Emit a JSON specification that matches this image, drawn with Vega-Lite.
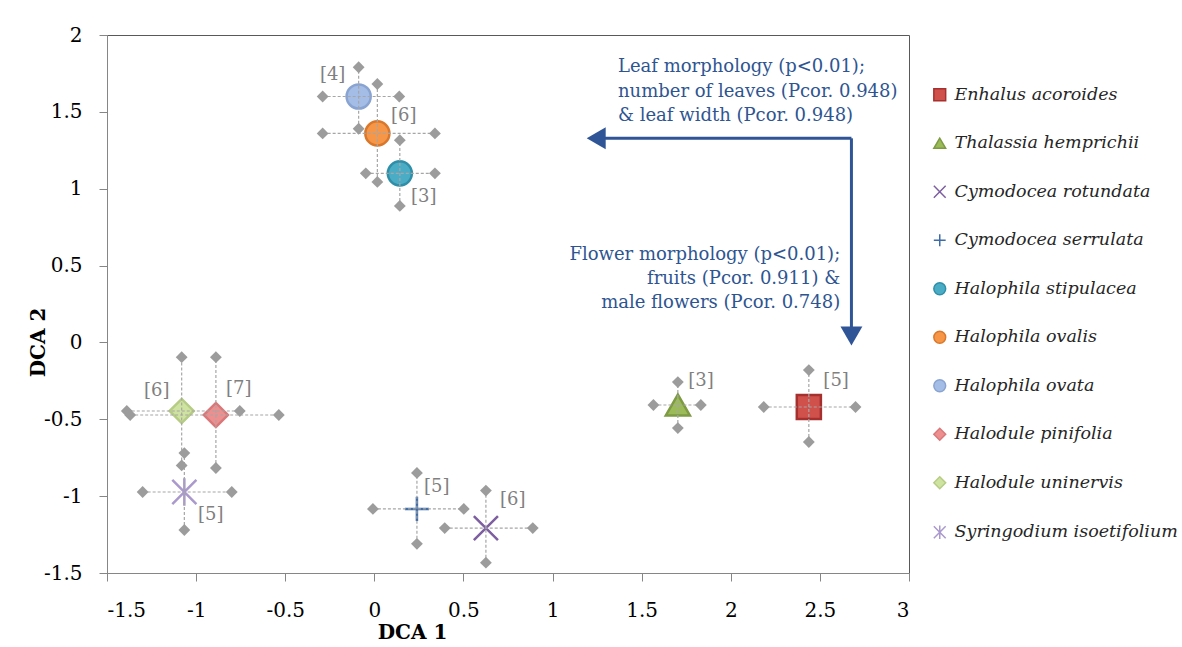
{
  "$schema": "https://vega.github.io/schema/vega-lite/v6.json",
  "autosize": {"type": "none"},
  "width": 802,
  "height": 538,
  "padding": {"left": 107, "top": 35, "right": 273, "bottom": 74},
  "background": "white",
  "datasets": {
    "species": [
      {"sp": "Enhalus acoroides", "x": 2.438, "y": -0.42, "xlo": 2.185, "xhi": 2.70, "ylo": -0.648, "yhi": -0.18, "n": "[5]", "lx": 2.591, "ly": -0.25},
      {"sp": "Thalassia hemprichii", "x": 1.703, "y": -0.407, "xlo": 1.566, "xhi": 1.832, "ylo": -0.557, "yhi": -0.258, "n": "[3]", "lx": 1.833, "ly": -0.25},
      {"sp": "Cymodocea rotundata", "x": 0.626, "y": -1.208, "xlo": 0.395, "xhi": 0.889, "ylo": -1.433, "yhi": -0.964, "n": "[6]", "lx": 0.777, "ly": -1.026},
      {"sp": "Cymodocea serrulata", "x": 0.239, "y": -1.083, "xlo": -0.008, "xhi": 0.502, "ylo": -1.31, "yhi": -0.849, "n": "[5]", "lx": 0.35, "ly": -0.94},
      {"sp": "Halophila stipulacea", "x": 0.143, "y": 1.10, "xlo": -0.048, "xhi": 0.34, "ylo": 0.888, "yhi": 1.316, "n": "[3]", "lx": 0.277, "ly": 0.946},
      {"sp": "Halophila ovalis", "x": 0.017, "y": 1.36, "xlo": -0.29, "xhi": 0.34, "ylo": 1.044, "yhi": 1.681, "n": "[6]", "lx": 0.165, "ly": 1.473},
      {"sp": "Halophila ovata", "x": -0.088, "y": 1.60, "xlo": -0.29, "xhi": 0.14, "ylo": 1.39, "yhi": 1.79, "n": "[4]", "lx": -0.234, "ly": 1.74},
      {"sp": "Halodule pinifolia", "x": -0.889, "y": -0.472, "xlo": -1.37, "xhi": -0.536, "ylo": -0.817, "yhi": -0.096, "n": "[7]", "lx": -0.761, "ly": -0.303},
      {"sp": "Halodule uninervis", "x": -1.081, "y": -0.446, "xlo": -1.389, "xhi": -0.755, "ylo": -0.80, "yhi": -0.096, "n": "[6]", "lx": -1.221, "ly": -0.316},
      {"sp": "Syringodium isoetifolium", "x": -1.066, "y": -0.973, "xlo": -1.30, "xhi": -0.80, "ylo": -1.22, "yhi": -0.72, "n": "[5]", "lx": -0.918, "ly": -1.123}
    ],
    "notes": [
      {"block": "leaf", "t": "Leaf morphology (p<0.01);", "x": 1.367, "y": 1.790},
      {"block": "leaf", "t": "number of leaves (Pcor. 0.948)", "x": 1.367, "y": 1.630},
      {"block": "leaf", "t": "&  leaf width (Pcor. 0.948)", "x": 1.367, "y": 1.475},
      {"block": "flower", "t": "Flower morphology (p<0.01);", "x": 2.614, "y": 0.570},
      {"block": "flower", "t": "fruits (Pcor. 0.911) &", "x": 2.614, "y": 0.415},
      {"block": "flower", "t": "male flowers (Pcor. 0.748)", "x": 2.614, "y": 0.258}
    ],
    "arrows": [
      {"x": 1.245, "x2": 2.677, "y": 1.328, "y2": 1.328},
      {"x": 2.677, "x2": 2.677, "y": 1.328, "y2": 0.042}
    ],
    "heads": [
      {"dir": "left", "x": 1.245, "y": 1.328},
      {"dir": "down", "x": 2.677, "y": 0.042}
    ]
  },
  "layer": [
    {
      "data": {"name": "species"},
      "mark": {"type": "point", "filled": true, "size": 580, "strokeWidth": 2.5, "opacity": 1},
      "encoding": {
        "x": {
          "field": "x", "type": "quantitative", "title": "DCA 1",
          "scale": {"domain": [-1.5, 3], "nice": false, "zero": false},
          "axis": {"title": "DCA 1", "values": [-1.5, -1, -0.5, 0, 0.5, 1, 1.5, 2, 2.5, 3], "labelExpr": "'' + datum.value", "labelPadding": 19, "titleX": 305, "titleY": 59, "titleBaseline": "middle", "titleAlign": "center"}
        },
        "y": {
          "field": "y", "type": "quantitative", "title": "DCA 2",
          "scale": {"domain": [-1.5, 2], "nice": false, "zero": false},
          "axis": {"title": "DCA 2", "values": [-1.5, -1, -0.5, 0, 0.5, 1, 1.5, 2], "labelExpr": "'' + datum.value", "labelPadding": 17, "titleX": -69, "titleY": 307, "titleBaseline": "middle", "titleAlign": "center", "titleAngle": -90}
        },
        "fill": {
          "field": "sp", "type": "nominal",
          "scale": {
            "domain": ["Enhalus acoroides", "Thalassia hemprichii", "Cymodocea rotundata", "Cymodocea serrulata", "Halophila stipulacea", "Halophila ovalis", "Halophila ovata", "Halodule pinifolia", "Halodule uninervis", "Syringodium isoetifolium"],
            "range": ["#D0504C", "#9BBB59", "#8064A2", "#4F81BD", "#4BACC6", "#F79646", "#A4BDE6", "#EE8F8F", "#CFE3A0", "#B3A2D0"]
          },
          "legend": {"title": null}
        },
        "stroke": {
          "field": "sp", "type": "nominal",
          "scale": {
            "domain": ["Enhalus acoroides", "Thalassia hemprichii", "Cymodocea rotundata", "Cymodocea serrulata", "Halophila stipulacea", "Halophila ovalis", "Halophila ovata", "Halodule pinifolia", "Halodule uninervis", "Syringodium isoetifolium"],
            "range": ["#A5302D", "#7E9A43", "#7D5FA1", "#3D6CA8", "#2F8FA8", "#D9782C", "#8AA4D2", "#D9787A", "#B6CC85", "#A999CC"]
          },
          "legend": {"title": null}
        },
        "shape": {
          "field": "sp", "type": "nominal",
          "scale": {
            "domain": ["Enhalus acoroides", "Thalassia hemprichii", "Cymodocea rotundata", "Cymodocea serrulata", "Halophila stipulacea", "Halophila ovalis", "Halophila ovata", "Halodule pinifolia", "Halodule uninervis", "Syringodium isoetifolium"],
            "range": ["square", "triangle-up", "M-1,-1L1,1M-1,1L1,-1", "M-1,0L1,0M0,-1L0,1", "circle", "circle", "circle", "diamond", "diamond", "M-1,-1L1,1M-1,1L1,-1M0,-1.15L0,1.15"]
          },
          "legend": {"title": null}
        }
      }
    },
    {
      "data": {"name": "species"},
      "mark": {"type": "rule", "color": "#A6A6A6", "strokeDash": [3, 2], "strokeWidth": 1.2},
      "encoding": {
        "x": {"field": "xlo", "type": "quantitative", "title": "DCA 1"},
        "x2": {"field": "xhi"},
        "y": {"field": "y", "type": "quantitative", "title": "DCA 2"}
      }
    },
    {
      "data": {"name": "species"},
      "mark": {"type": "rule", "color": "#A6A6A6", "strokeDash": [3, 2], "strokeWidth": 1.2},
      "encoding": {
        "x": {"field": "x", "type": "quantitative", "title": "DCA 1"},
        "y": {"field": "ylo", "type": "quantitative", "title": "DCA 2"},
        "y2": {"field": "yhi"}
      }
    },
    {
      "data": {"name": "species"},
      "mark": {"type": "point", "shape": "diamond", "filled": true, "size": 140, "color": "#9C9C9C", "opacity": 1},
      "encoding": {
        "x": {"field": "xlo", "type": "quantitative", "title": "DCA 1"},
        "y": {"field": "y", "type": "quantitative", "title": "DCA 2"}
      }
    },
    {
      "data": {"name": "species"},
      "mark": {"type": "point", "shape": "diamond", "filled": true, "size": 140, "color": "#9C9C9C", "opacity": 1},
      "encoding": {
        "x": {"field": "xhi", "type": "quantitative", "title": "DCA 1"},
        "y": {"field": "y", "type": "quantitative", "title": "DCA 2"}
      }
    },
    {
      "data": {"name": "species"},
      "mark": {"type": "point", "shape": "diamond", "filled": true, "size": 140, "color": "#9C9C9C", "opacity": 1},
      "encoding": {
        "x": {"field": "x", "type": "quantitative", "title": "DCA 1"},
        "y": {"field": "ylo", "type": "quantitative", "title": "DCA 2"}
      }
    },
    {
      "data": {"name": "species"},
      "mark": {"type": "point", "shape": "diamond", "filled": true, "size": 140, "color": "#9C9C9C", "opacity": 1},
      "encoding": {
        "x": {"field": "x", "type": "quantitative", "title": "DCA 1"},
        "y": {"field": "yhi", "type": "quantitative", "title": "DCA 2"}
      }
    },
    {
      "data": {"name": "species"},
      "mark": {"type": "text", "font": "DejaVu Serif", "fontSize": 18, "color": "#808080", "align": "center", "baseline": "middle"},
      "encoding": {
        "x": {"field": "lx", "type": "quantitative", "title": "DCA 1"},
        "y": {"field": "ly", "type": "quantitative", "title": "DCA 2"},
        "text": {"field": "n"}
      }
    },
    {
      "data": {"name": "arrows"},
      "mark": {"type": "rule", "color": "#2F5597", "strokeWidth": 3},
      "encoding": {
        "x": {"field": "x", "type": "quantitative", "title": "DCA 1"},
        "x2": {"field": "x2"},
        "y": {"field": "y", "type": "quantitative", "title": "DCA 2"},
        "y2": {"field": "y2"}
      }
    },
    {
      "data": {"name": "heads"},
      "transform": [{"filter": "datum.dir == 'left'"}],
      "mark": {"type": "point", "shape": "triangle-left", "filled": true, "size": 480, "color": "#2F5597", "opacity": 1},
      "encoding": {
        "x": {"field": "x", "type": "quantitative", "title": "DCA 1"},
        "y": {"field": "y", "type": "quantitative", "title": "DCA 2"}
      }
    },
    {
      "data": {"name": "heads"},
      "transform": [{"filter": "datum.dir == 'down'"}],
      "mark": {"type": "point", "shape": "triangle-down", "filled": true, "size": 480, "color": "#2F5597", "opacity": 1},
      "encoding": {
        "x": {"field": "x", "type": "quantitative", "title": "DCA 1"},
        "y": {"field": "y", "type": "quantitative", "title": "DCA 2"}
      }
    },
    {
      "data": {"name": "notes"},
      "transform": [{"filter": "datum.block == 'leaf'"}],
      "mark": {"type": "text", "font": "DejaVu Serif", "fontSize": 18, "color": "#2E5591", "align": "left", "baseline": "middle"},
      "encoding": {
        "x": {"field": "x", "type": "quantitative", "title": "DCA 1"},
        "y": {"field": "y", "type": "quantitative", "title": "DCA 2"},
        "text": {"field": "t"}
      }
    },
    {
      "data": {"name": "notes"},
      "transform": [{"filter": "datum.block == 'flower'"}],
      "mark": {"type": "text", "font": "DejaVu Serif", "fontSize": 18, "color": "#2E5591", "align": "right", "baseline": "middle"},
      "encoding": {
        "x": {"field": "x", "type": "quantitative", "title": "DCA 1"},
        "y": {"field": "y", "type": "quantitative", "title": "DCA 2"},
        "text": {"field": "t"}
      }
    }
  ],
  "config": {
    "view": {"stroke": "#595959", "strokeWidth": 1},
    "axis": {
      "grid": false,
      "domainColor": "#868686",
      "tickColor": "#868686",
      "tickSize": 8,
      "labelFont": "DejaVu Serif",
      "labelFontSize": 20,
      "labelColor": "#000000",
      "titleFont": "DejaVu Serif",
      "titleFontSize": 20,
      "titleFontWeight": "bold",
      "titleColor": "#000000"
    },
    "legend": {
      "orient": "none",
      "legendX": 824,
      "legendY": 51,
      "padding": 0,
      "rowPadding": 29.5,
      "labelFont": "DejaVu Serif",
      "labelFontStyle": "italic",
      "labelFontSize": 17.5,
      "labelColor": "#262626",
      "labelOffset": 6,
      "symbolSize": 140,
      "symbolStrokeWidth": 1.5,
      "labelLimit": 300
    }
  }
}
